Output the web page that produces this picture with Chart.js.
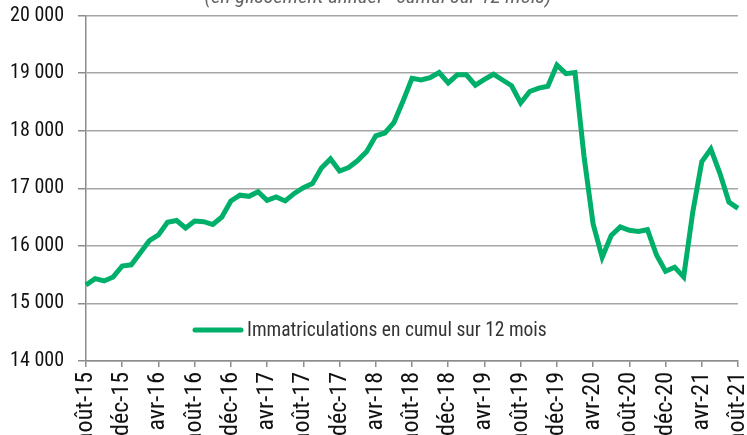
<!DOCTYPE html>
<html>
<head>
<meta charset="utf-8">
<script src="https://cdn.jsdelivr.net/npm/chart.js@4"></script>
<style>
  html, body { margin: 0; padding: 0; background: #fff; overflow: hidden; }
  #graphique { display: block; }
</style>
</head>
<body>
<canvas id="graphique" width="747" height="435"></canvas>
<script>
const moisNoms = ['janv', 'févr', 'mars', 'avr', 'mai', 'juin', 'juil', 'août', 'sept', 'oct', 'nov', 'déc'];

// immatriculations, cumul glissant sur 12 mois, de août-15 à août-21
const immatriculations = [
    15320, 15430, 15390, 15460, 15650, 15670, 15880, 16090, 16190, 16410, 16440, 16310,
    16430, 16420, 16370, 16500, 16780, 16880, 16860, 16940, 16790, 16850, 16780, 16910,
    17010, 17080, 17350, 17510, 17300, 17360, 17480, 17640, 17910, 17960, 18140, 18510,
    18910, 18880, 18920, 19010, 18830, 18970, 18970, 18790, 18890, 18980, 18880, 18780,
    18480, 18680, 18740, 18770, 19140, 18990, 19010, 17550, 16380, 15800, 16180, 16330,
    16270, 16250, 16280, 15840, 15560, 15630, 15460, 16580, 17460, 17680, 17260, 16760,
    16650
];

const titre = '(en glissement annuel - cumul sur 12 mois)';
const libelleSerie = 'Immatriculations en cumul sur 12 mois';
const vert = 'rgb(0, 176, 106)';
const police = "'Roboto Condensed', 'Liberation Sans Narrow', 'DejaVu Sans Condensed', sans-serif";

// étiquettes mensuelles à partir d'août 2015
const mois = [];
for (let i = 0; i < immatriculations.length; i++) {
    const m = (7 + i) % 12;
    const an = 15 + Math.floor((7 + i) / 12);
    mois.push(moisNoms[m] + '-' + an);
}

const titrePlugin = {
    id: 'titrePlugin',
    afterDraw(chart) {
        const ctx = chart.ctx;
        ctx.save();
        ctx.font = 'italic 21px ' + police;
        ctx.fillStyle = '#666';
        ctx.textAlign = 'center';
        ctx.textBaseline = 'alphabetic';
        ctx.fillText(titre, 378, 3);
        ctx.restore();
    }
};

const legendePlugin = {
    id: 'legendePlugin',
    afterDraw(chart) {
        const ctx = chart.ctx;
        const ds = chart.data.datasets[0];
        ctx.save();
        ctx.strokeStyle = ds.borderColor;
        ctx.lineWidth = 5;
        ctx.lineCap = 'round';
        ctx.beginPath();
        ctx.moveTo(195, 330);
        ctx.lineTo(241, 330);
        ctx.stroke();
        ctx.font = '19.5px ' + police;
        ctx.fillStyle = '#333';
        ctx.textBaseline = 'middle';
        ctx.fillText(ds.label, 247, 331);
        ctx.restore();
    }
};

new Chart(document.getElementById('graphique'), {
    type: 'line',
    data: {
        labels: mois,
        datasets: [{
            label: libelleSerie,
            data: immatriculations,
            borderColor: vert,
            backgroundColor: vert,
            borderWidth: 5,
            pointRadius: 0,
            tension: 0,
            fill: false
        }]
    },
    plugins: [titrePlugin, legendePlugin],
    options: {
        responsive: false,
        animation: false,
        devicePixelRatio: 1,
        layout: { padding: { top: 15.5, right: 9, left: 0, bottom: 0 } },
        plugins: {
            legend: { display: false },
            title: { display: false },
            tooltip: { enabled: false }
        },
        scales: {
            x: {
                offset: false,
                grid: {
                    drawOnChartArea: false,
                    tickLength: 6,
                    tickColor: (c) => c.index % 4 === 0 ? '#8c8c8c' : 'rgba(0,0,0,0)',
                    lineWidth: 1.5
                },
                border: { color: '#8c8c8c', width: 1.5 },
                ticks: {
                    autoSkip: false,
                    minRotation: 90,
                    maxRotation: 90,
                    padding: 5,
                    color: '#111',
                    font: { family: police, size: 24 },
                    callback: function(val, index) {
                        return index % 4 === 0 ? this.getLabelForValue(val) : '';
                    }
                },
                afterFit: (scale) => {
                    scale.height = 74;
                    scale.paddingLeft = 0;
                    scale.paddingRight = 0;
                }
            },
            y: {
                min: 14000,
                max: 20000,
                grid: {
                    color: '#a6a6a6',
                    lineWidth: 1.5,
                    tickLength: 8,
                    tickColor: '#8c8c8c'
                },
                border: { color: '#8c8c8c', width: 1.5 },
                ticks: {
                    stepSize: 1000,
                    padding: 14,
                    color: '#111',
                    font: { family: police, size: 20 },
                    callback: (v) => String(v).replace(/\B(?=(\d{3})+(?!\d))/g, ' ')
                },
                afterFit: (scale) => {
                    scale.width = 86;
                    scale.paddingTop = 0;
                    scale.paddingBottom = 0;
                }
            }
        }
    }
});
</script>
</body>
</html>
